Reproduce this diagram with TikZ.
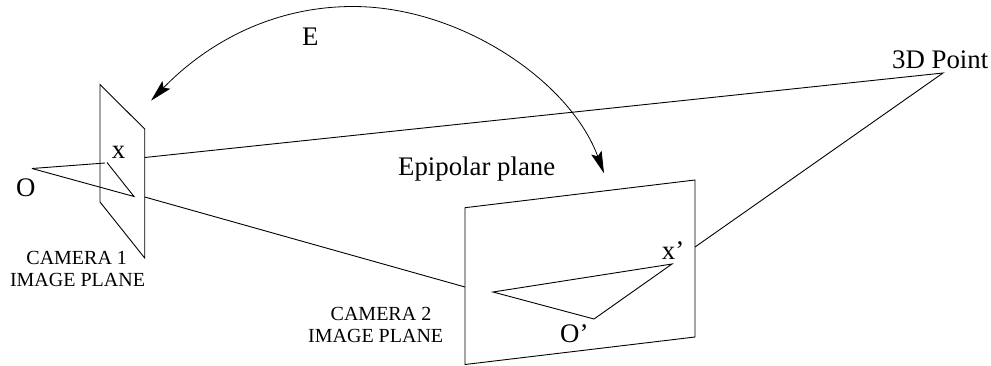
\documentclass[tikz,border=0pt]{standalone}
\usepackage{fontspec}
\setmainfont{Liberation Serif}
\usetikzlibrary{arrows.meta}
\tikzset{
  x=1pt,y=-1pt,
  edge/.style={line width=0.9pt,line join=miter},
  bigtext/.style={inner sep=0pt,anchor=base west,font=\fontsize{26.8}{30}\selectfont},
  smalltext/.style={inner sep=0pt,anchor=base,font=\fontsize{20}{22}\selectfont},
  bend tip/.style={line width=0.8pt,-{Stealth[length=22pt,width=11pt,inset=4pt]}}
}
\begin{document}
\begin{tikzpicture}
\useasboundingbox (0,0) rectangle (991,365);
% points
\coordinate (pA) at (100,84.5);
\coordinate (pB) at (144.7,129);
\coordinate (pC) at (144.7,258);
\coordinate (pD) at (100,202);
\coordinate (qA) at (465,207.7);
\coordinate (qB) at (695,180);
\coordinate (qC) at (695,337);
\coordinate (qD) at (465,364.5);
\coordinate (opt1) at (32,168.5);
\coordinate (xtop) at (105,163);
\coordinate (xstart) at (107,162.5);
\coordinate (xend) at (134,196.5);
\coordinate (exitA) at (144.7,157.5);
\coordinate (exitB) at (144.7,197);
\coordinate (enterB) at (465,287);
\coordinate (enterC) at (695,247);
\coordinate (point3d) at (943,73);
\coordinate (epi) at (493,292);
\coordinate (xp) at (672,264);
\coordinate (op) at (594,319);
\coordinate (arcL) at (151,100.7);
\coordinate (arcT) at (353,6.5);
\coordinate (arcR) at (604,173.3);
% planes
\draw[edge] (pA)--(pB)--(pC)--(pD)--cycle;
\draw[edge] (qA)--(qB)--(qC)--(qD)--cycle;
% rays
\draw[edge] (opt1)--(xtop);
\draw[edge] (opt1)--(xend)--(xstart);
\draw[edge] (exitA)--(point3d)--(enterC);
\draw[edge] (exitB)--(enterB);
\draw[edge] (epi)--(xp)--(op)--cycle;
% arc
\draw[bend tip] (arcT) .. controls (270,6.5) and (205,45) .. (arcL);
\draw[bend tip] (arcT) .. controls (460,6.5) and (570,81) .. (arcR);
% labels
\node[bigtext] (lblE) at (302,45) {E};
\node[bigtext] (lblEpi) at (398,175) {Epipolar plane};
\node[bigtext] (lbl3D) at (892,68) {3D Point};
\node[bigtext] (lblx) at (111.7,158) {x};
\node[bigtext] (lblO) at (16,196.7) {O};
\node[bigtext] (lblxp) at (661.7,259) {x’};
\node[bigtext] (lblOp) at (560,342) {O’};
\node[smalltext] (c1a) at (76.7,264) {CAMERA 1};
\node[smalltext] (c1b) at (77.5,286.7) {IMAGE PLANE};
\node[smalltext] (c2a) at (381,320) {CAMERA 2};
\node[smalltext] (c2b) at (375.7,342.7) {IMAGE PLANE};
\end{tikzpicture}
\end{document}
